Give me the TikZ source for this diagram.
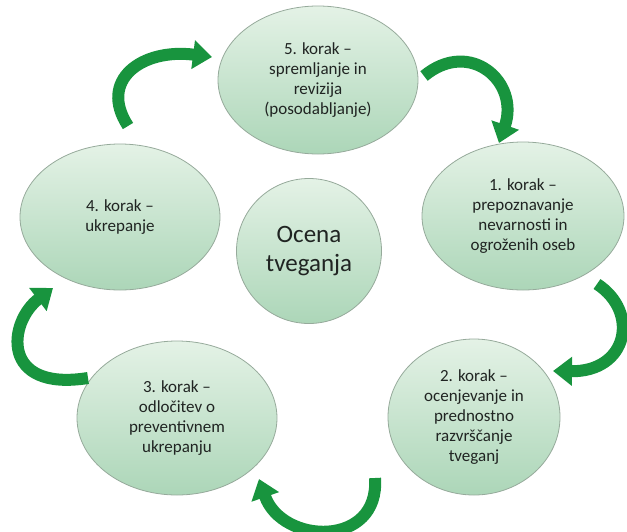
\documentclass[tikz,border=0pt]{standalone}
\usepackage{fontspec}
\setmainfont{Carlito}
\usetikzlibrary{shapes.geometric,arrows.meta}
\definecolor{elltop}{RGB}{228,242,230}
\definecolor{ellbot}{RGB}{172,214,184}
\definecolor{ellline}{RGB}{150,170,155}
\definecolor{arrgreen}{RGB}{24,148,62}
\definecolor{txt}{RGB}{32,36,34}
\tikzset{
  stepell/.style={ellipse, draw=ellline, line width=0.8pt, top color=elltop, bottom color=ellbot,
    inner sep=0pt, align=center, text=txt, font=\fontsize{17}{20}\selectfont},
  cyclearrow/.style={draw=arrgreen, line width=12pt,
    -{Triangle[width=28pt,length=19pt]}, arrgreen}
}
\begin{document}
\begin{tikzpicture}[x=1pt,y=-1pt]
\useasboundingbox (0,0) rectangle (627,531);
% step ellipses
\node[stepell, minimum width=200pt, minimum height=148pt] (s5) at (318,80)
  {5. korak –\\spremljanje in\\revizija\\(posodabljanje)};
\node[stepell, minimum width=202pt, minimum height=148pt] (s1) at (523,216)
  {1. korak –\\prepoznavanje\\nevarnosti in\\ogroženih oseb};
\node[stepell, minimum width=172pt, minimum height=156pt] (s2) at (474,417)
  {2. korak –\\ocenjevanje in\\prednostno\\razvrščanje\\tveganj};
\node[stepell, minimum width=200pt, minimum height=154pt] (s3) at (177,418)
  {3. korak –\\odločitev o\\preventivnem\\ukrepanju};
\node[stepell, minimum width=200pt, minimum height=146pt] (s4) at (120,217)
  {4. korak –\\ukrepanje};
\node[stepell, circle, minimum size=145pt, font=\fontsize{25}{29}\selectfont] (c) at (309,251)
  {Ocena\\tveganja};
% arrow end points
\coordinate (a5s) at (424,76);
\coordinate (a1e) at (499,143);
\coordinate (a1s) at (597,284);
\coordinate (a2e) at (553,371);
\coordinate (a2s) at (375,478);
\coordinate (a3e) at (259,479);
\coordinate (a3s) at (88,378);
\coordinate (a4e) at (53,288);
\coordinate (a4s) at (128,126);
\coordinate (a5e) at (212,57);
% arrows
\draw[cyclearrow] (a5s) .. controls (470,38) and (520,82) .. (a1e);
\draw[cyclearrow] (a1s) .. controls (640,312) and (628,372) .. (a2e);
\draw[cyclearrow] (a2s) .. controls (380,548) and (282,545) .. (a3e);
\draw[cyclearrow] (a3s) .. controls (0,392) and (8,322) .. (a4e);
\draw[cyclearrow] (a4s) .. controls (98,80) and (142,48) .. (a5e);
\end{tikzpicture}
\end{document}
